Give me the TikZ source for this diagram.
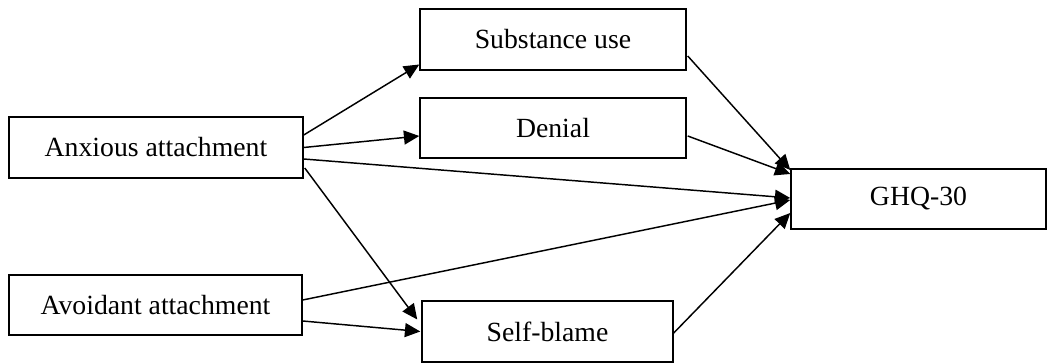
\documentclass[tikz,border=0pt]{standalone}
\usepackage{fontspec}
\setmainfont{Liberation Serif}
\usetikzlibrary{arrows.meta,calc}
\begin{document}
\begin{tikzpicture}[x=0.75pt,y=-0.75pt,
  box/.style={draw,line width=1.1pt,rectangle,inner sep=0pt,font=\fontsize{20.8pt}{24pt}\selectfont},
  arr/.style={line width=1.1pt,-{Triangle[length=11.5pt,width=10.5pt]}}]
\useasboundingbox (0,0) rectangle (1047,363);
\node[box,minimum width=220.5pt,minimum height=45.75pt] (anx) at (156,147.5) {Anxious attachment};
\node[box,minimum width=219.75pt,minimum height=45pt] (avo) at (155.5,305) {Avoidant attachment};
\node[box,minimum width=199.5pt,minimum height=45.75pt] (sub) at (553,39.5) {Substance use};
\node[box,minimum width=199.5pt,minimum height=45pt] (den) at (553,128) {Denial};
\node[box,minimum width=188.25pt,minimum height=45.75pt] (self) at (547.5,331.5) {Self-blame};
\node[box,minimum width=191.25pt,minimum height=45pt] (ghq) at (918.5,199) {GHQ-30};
% anxious
\draw[arr] ($(anx.east)+(0,-12.5)$) -- ($(sub.west)+(0,25)$);
\draw[arr] ($(anx.east)+(0,0)$) -- ($(den.west)+(0,8)$);
\draw[arr] ($(anx.east)+(0,11.5)$) -- ($(ghq.west)+(0,-1)$);
\draw[arr] ($(anx.east)+(1,20.5)$) -- ($(self.west)+(-4,-12)$);
% avoidant
\draw[arr] ($(avo.east)+(0,-5)$) -- ($(ghq.west)+(0,1)$);
\draw[arr] ($(avo.east)+(0,16)$) -- ($(self.west)+(-1,0)$);
% mediators
\draw[arr] ($(sub.east)+(1,16.5)$) -- ($(ghq.west)+(0,-29)$);
\draw[arr] ($(den.east)+(1,8)$) -- ($(ghq.west)+(0,-25)$);
\draw[arr] ($(self.east)+(0,1.5)$) -- ($(ghq.west)+(0,14)$);
\end{tikzpicture}
\end{document}
